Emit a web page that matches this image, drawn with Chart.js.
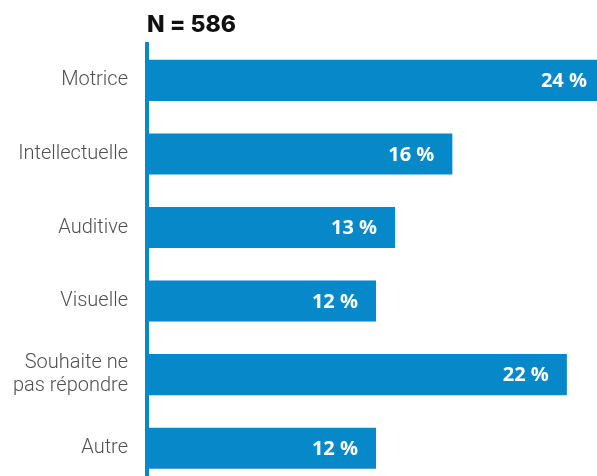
<!DOCTYPE html>
<html lang="fr">
<head>
    <meta charset="UTF-8">
    <title>N = 586</title>
    <script src="https://cdn.jsdelivr.net/npm/chart.js@4.4.0/dist/chart.umd.min.js"></script>
    <style>
        html, body { margin: 0; padding: 0; background: #fff; overflow: hidden; }
        /* the original picture is cropped: the plot runs a bit below the window */
        .chart-container { position: relative; width: 597px; height: 485px; }
    </style>
</head>
<body>
    <div class="chart-container">
        <canvas id="chart"></canvas>
    </div>
    <script>
    const categories = ['Motrice', 'Intellectuelle', 'Auditive', 'Visuelle', ['Souhaite ne', 'pas répondre'], 'Autre']
    const percents = [24, 16, 13, 12, 22, 12]
    const sampleTitle = 'N = 586'

    const blue = '#0788c8'

    // white value labels drawn inside the end of each bar
    const barLabels = {
        id: 'barLabels',
        afterDatasetsDraw(chart) {
            const ctx = chart.ctx
            const meta = chart.getDatasetMeta(0)
            ctx.save()
            ctx.font = 'bold 20px "Open Sans"'
            ctx.fillStyle = '#fff'
            ctx.textAlign = 'right'
            ctx.textBaseline = 'middle'
            meta.data.forEach((bar, i) => {
                ctx.fillText(percents[i] + ' %', bar.x - 18, bar.y + 1)
            })
            ctx.restore()
        }
    }

    const ctx = document.getElementById('chart').getContext('2d')
    const myChart = new Chart(ctx, {
        type: 'bar',
        data: {
            labels: categories,
            datasets: [{
                data: percents,
                backgroundColor: blue,
                borderWidth: 0,
                barPercentage: 0.558,
                categoryPercentage: 1
            }]
        },
        options: {
            indexAxis: 'y',
            responsive: true,
            maintainAspectRatio: false,
            animation: false,
            layout: { padding: 0 },
            plugins: {
                legend: { display: false },
                tooltip: { enabled: false },
                title: {
                    display: true,
                    text: sampleTitle,
                    align: 'start',
                    fullSize: false,
                    color: '#111',
                    font: { family: 'Inter', size: 23, weight: '800' },
                    padding: { top: 11, bottom: 5 }
                }
            },
            scales: {
                x: {
                    display: false,
                    min: 0,
                    max: 23.58
                },
                y: {
                    afterFit(scale) {
                        scale.width = 147
                        scale.paddingTop = 0
                        scale.paddingBottom = 0
                    },
                    grid: { display: false, drawTicks: true, tickLength: 19 },
                    border: { display: true, color: blue, width: 4 },
                    ticks: {
                        color: '#505050',
                        padding: 0,
                        font: { family: 'Roboto', size: 20, weight: '300', lineHeight: 1.15 }
                    }
                }
            }
        },
        plugins: [barLabels]
    })
    </script>
</body>
</html>
